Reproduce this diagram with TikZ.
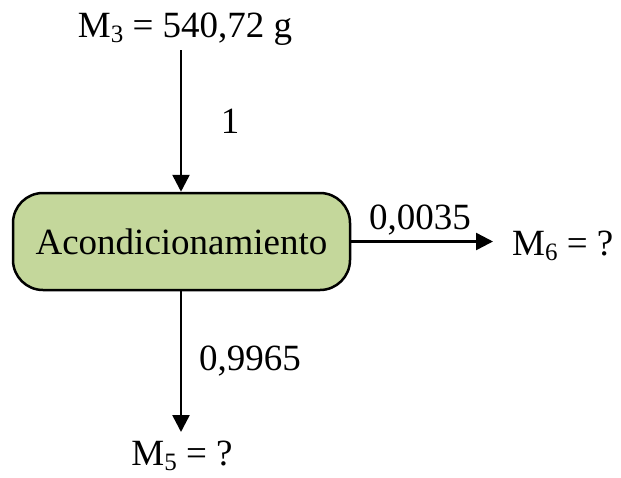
\documentclass[tikz,border=0pt]{standalone}
\usepackage{fontspec}
\setmainfont{Liberation Serif}
\usetikzlibrary{arrows.meta}
\definecolor{boxgreen}{HTML}{C4D79B}
\newcommand{\mysub}[1]{\raisebox{-0.16em}{\fontsize{25}{25}\selectfont #1}}
\begin{document}
\begin{tikzpicture}[x=1pt,y=-1pt,
  txt/.style={font=\fontsize{37}{40}\selectfont, inner sep=0pt},
  procbox/.style={draw=black, line width=2.5pt, fill=boxgreen, rounded corners=30pt,
     minimum width=337pt, minimum height=97pt, inner sep=0pt, font=\fontsize{37}{40}\selectfont},
  flow/.style={line width=2.5pt, -{Triangle[length=17pt,width=17pt]}}]
\useasboundingbox (0,0) rectangle (621,477);
\node[procbox] (box) at (181.5,241.5) {Acondicionamiento};
\node[txt, anchor=base] (m3) at (185,37) {M\mysub{3} = 540,72 g};
\coordinate (top) at (181,50);
\draw[flow] (top) -- (box.north -| top);
\node[txt, anchor=base] (l1) at (230,133) {1};
\coordinate (rend) at (493,241.5);
\draw[flow] (box.east) -- (rend);
\node[txt, anchor=base] (l2) at (420,229) {0,0035};
\node[txt, anchor=base west] (m6) at (512,255) {M\mysub{6} = ?};
\coordinate (bend) at (181,432);
\draw[flow] (box.south -| bend) -- (bend);
\node[txt, anchor=base] (l3) at (250,370) {0,9965};
\node[txt, anchor=base] (m5) at (182,465) {M\mysub{5} = ?};
\end{tikzpicture}
\end{document}
